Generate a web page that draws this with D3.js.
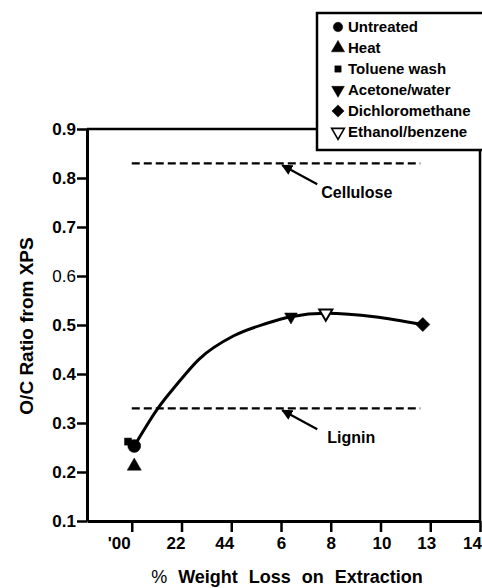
<!DOCTYPE html>
<html>
<head>
<meta charset="utf-8">
<script src="https://cdn.jsdelivr.net/npm/d3@7"></script>
<style>
  body { margin: 0; background: #fff; }
  svg { display: block; font-family: "Liberation Sans", Arial, Helvetica, sans-serif; }
</style>
</head>
<body>
<svg id="chart" width="482" height="588"></svg>
<script>
// treatment points
const treatments = ['Untreated', 'Heat', 'Toluene wash', 'Acetone/water', 'Dichloromethane', 'Ethanol/benzene'];
const weightLoss = [0.1, 0.1, -0.15, 6.4, 11.7, 7.8];
const ocRatio = [0.253, 0.212, 0.262, 0.517, 0.501, 0.524];

// hand drawn trend curve
const fitLoss = [0.1, 1.05, 1.8, 2.7, 4.1, 5.4, 6.4, 7.8, 11.7];
const fitRatio = [0.253, 0.33, 0.378, 0.43, 0.478, 0.503, 0.517, 0.524, 0.501];

// reference levels
const refNames = ['Cellulose', 'Lignin'];
const refValues = [0.83, 0.33];
const refFrom = 0, refTo = 11.6;

const yTicks = [0.1, 0.2, 0.3, 0.4, 0.5, 0.6, 0.7, 0.8, 0.9];
const yTickLabels = ['0.1', '0.2', '0.3', '0.4', '0.5', '0.6', '0.7', '0.8', '0.9'];
const xTicks = [0, 2, 4, 6, 8, 10, 12, 14];
const xTickLabels = ["'00", '22', '44', '6', '8', '10', '13', '14'];

const svg = d3.select('#chart');

const x = d3.scaleLinear().domain([-1.8, 14]).range([87, 480]);
const y = d3.scaleLinear().domain([0.1, 0.9]).range([521, 129]);

// frame
svg.append('line').attr('x1', 87).attr('x2', 317).attr('y1', y(0.9)).attr('y2', y(0.9))
  .attr('stroke', '#000').attr('stroke-width', 2.5);
svg.append('line').attr('x1', 480).attr('x2', 480).attr('y1', 150).attr('y2', y(0.1))
  .attr('stroke', '#000').attr('stroke-width', 2.5);

// y axis
const yAxis = svg.append('g')
  .attr('transform', 'translate(87,0)')
  .call(d3.axisLeft(y).tickValues(yTicks).tickSize(10).tickSizeOuter(0)
    .tickFormat((d, i) => yTickLabels[i]));
yAxis.select('.domain').attr('stroke-width', 3);
yAxis.selectAll('.tick line').attr('stroke-width', 2.5);
yAxis.selectAll('.tick text')
  .attr('x', -11)
  .style('font-size', '17px')
  .style('font-weight', d => d === 0.6 ? 'normal' : 'bold')
  .style('fill', '#000');

// x axis
const labelShift = [-13, -6, -7, 0, 0, 1, -4, -8];
const xAxis = svg.append('g')
  .attr('transform', `translate(0,${y(0.1)})`)
  .call(d3.axisBottom(x).tickValues(xTicks).tickSize(11).tickSizeOuter(0)
    .tickFormat((d, i) => xTickLabels[i]));
xAxis.select('.domain').attr('stroke-width', 3);
xAxis.selectAll('.tick line').attr('stroke-width', 2.5);
xAxis.selectAll('.tick text')
  .attr('dx', (d, i) => labelShift[i])
  .attr('y', 16)
  .style('font-size', '17px')
  .style('font-weight', 'bold')
  .style('fill', '#000');

// axis titles
svg.append('text')
  .attr('x', 287).attr('y', 583)
  .attr('text-anchor', 'middle')
  .style('font-size', '18px').style('font-weight', 'bold').style('word-spacing', '6px')
  .html('<tspan style="font-weight:normal">%</tspan> Weight Loss on Extraction');

svg.append('text')
  .attr('transform', 'translate(33,326) rotate(-90)')
  .attr('text-anchor', 'middle')
  .style('font-size', '19px').style('font-weight', 'bold')
  .text('O/C Ratio from XPS');

// reference lines with arrows
svg.append('defs').append('marker')
  .attr('id', 'head').attr('viewBox', '0 0 10 10').attr('refX', 9).attr('refY', 5)
  .attr('markerWidth', 5).attr('markerHeight', 5).attr('orient', 'auto')
  .append('path').attr('d', 'M0,0L10,5L0,10z').attr('fill', '#000');

refValues.forEach((v, i) => {
  svg.append('line')
    .attr('x1', x(refFrom)).attr('x2', x(refTo))
    .attr('y1', y(v)).attr('y2', y(v))
    .attr('stroke', '#000').attr('stroke-width', 2.2).attr('stroke-dasharray', '8,4');
  const tipX = x(6.05), tipY = y(v) + 2;
  svg.append('line')
    .attr('x1', tipX + 35).attr('y1', tipY + 19)
    .attr('x2', tipX).attr('y2', tipY)
    .attr('stroke', '#000').attr('stroke-width', 2.2)
    .attr('marker-end', 'url(#head)');
  svg.append('text')
    .attr('x', tipX + 39 + (i ? 6 : 0)).attr('y', tipY + 33)
    .style('font-size', '16px').style('font-weight', 'bold')
    .text(refNames[i]);
});

// trend curve
const curve = d3.line().x(d => x(d[0])).y(d => y(d[1])).curve(d3.curveMonotoneX);
svg.append('path')
  .datum(fitLoss.map((d, i) => [d, fitRatio[i]]))
  .attr('d', curve)
  .attr('fill', 'none').attr('stroke', '#000').attr('stroke-width', 3);

// markers
const shapes = [
  { type: d3.symbolCircle, size: 130, rot: 0, fill: '#000' },
  { type: d3.symbolTriangle, size: 85, rot: 0, fill: '#000' },
  { type: d3.symbolSquare, size: 50, rot: 0, fill: '#000' },
  { type: d3.symbolTriangle, size: 70, rot: 180, fill: '#000' },
  { type: d3.symbolSquare, size: 100, rot: 45, fill: '#000' },
  { type: d3.symbolTriangle, size: 75, rot: 180, fill: '#fff' }
];
const drawOrder = [2, 0, 1, 3, 5, 4];
drawOrder.forEach(i => {
  const s = shapes[i];
  svg.append('path')
    .attr('d', d3.symbol().type(s.type).size(s.size)())
    .attr('transform', `translate(${x(weightLoss[i])},${y(ocRatio[i])}) rotate(${s.rot})`)
    .attr('fill', s.fill).attr('stroke', '#000').attr('stroke-width', s.fill === '#fff' ? 2 : 0.5);
});

// legend
svg.append('rect')
  .attr('x', 317).attr('y', 13).attr('width', 180).attr('height', 137)
  .attr('fill', '#fff').attr('stroke', '#000').attr('stroke-width', 2.5);
const legendSize = [70, 75, 40, 70, 75, 70];
const legend = svg.selectAll('.legend').data(treatments).enter()
  .append('g').attr('class', 'legend')
  .attr('transform', (d, i) => `translate(338,${27 + i * 21})`);
legend.append('path')
  .attr('d', (d, i) => d3.symbol().type(shapes[i].type).size(legendSize[i])())
  .attr('transform', (d, i) => `rotate(${shapes[i].rot})`)
  .attr('fill', (d, i) => shapes[i].fill)
  .attr('stroke', '#000')
  .attr('stroke-width', (d, i) => shapes[i].fill === '#fff' ? 1.6 : 0.5);
legend.append('text')
  .attr('x', 10).attr('dy', '0.35em')
  .style('font-size', '15px').style('font-weight', 'bold')
  .text(d => d);
</script>
</body>
</html>
